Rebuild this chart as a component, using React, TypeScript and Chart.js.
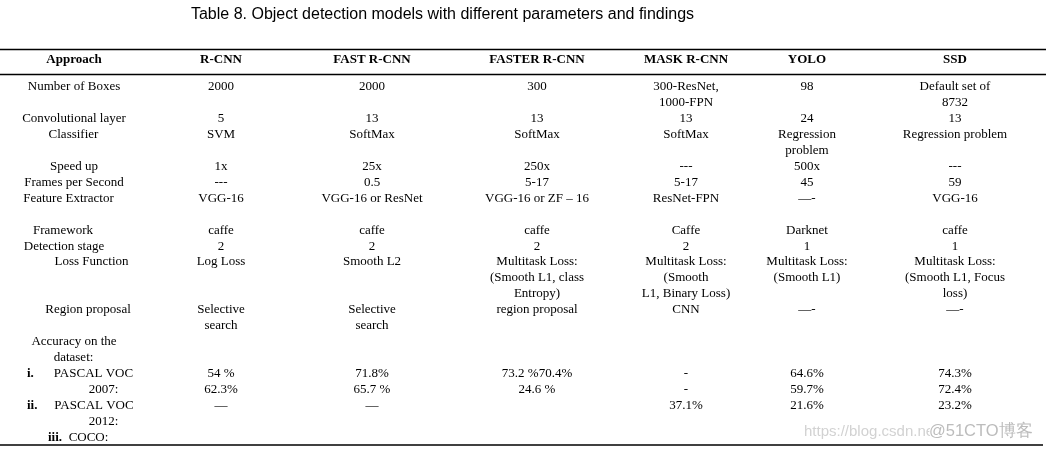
import React, { useEffect, useRef } from "react";
import { Chart, registerables } from "chart.js";

Chart.register(...registerables);

// ---------- data ----------
const title = "Table 8. Object detection models with different parameters and findings";
const headers = ["Approach", "R-CNN", "FAST R-CNN", "FASTER R-CNN", "MASK R-CNN", "YOLO", "SSD"];
const rowLabels = [
  "Number of Boxes",
  "Convolutional layer",
  "Classifier",
  "Speed up",
  "Frames per Second",
  "Feature Extractor",
  "Framework",
  "Detection stage",
  "Loss Function",
  "Region proposal",
  "Accuracy on the\ndataset:",
  "PASCAL VOC\n2007:",
  "PASCAL VOC\n2012:",
  "COCO:",
];
const rowMarkers = ["", "", "", "", "", "", "", "", "", "", "", "i.", "ii.", "iii."];
const rcnn = ["2000", "5", "SVM", "1x", "---", "VGG-16", "caffe", "2", "Log Loss", "Selective\nsearch", "", "54 %\n62.3%", "—", ""];
const fastRcnn = ["2000", "13", "SoftMax", "25x", "0.5", "VGG-16 or ResNet", "caffe", "2", "Smooth L2", "Selective\nsearch", "", "71.8%\n65.7 %", "—", ""];
const fasterRcnn = ["300", "13", "SoftMax", "250x", "5-17", "VGG-16 or ZF – 16", "caffe", "2", "Multitask Loss:\n(Smooth L1, class\nEntropy)", "region proposal", "", "73.2 %70.4%\n24.6 %", "", ""];
const maskRcnn = ["300-ResNet,\n1000-FPN", "13", "SoftMax", "---", "5-17", "ResNet-FPN", "Caffe", "2", "Multitask Loss:\n(Smooth\nL1, Binary Loss)", "CNN", "", "-\n-", "37.1%", ""];
const yolo = ["98", "24", "Regression\nproblem", "500x", "45", "—-", "Darknet", "1", "Multitask Loss:\n(Smooth L1)", "—-", "", "64.6%\n59.7%", "21.6%", ""];
const ssd = ["Default set of\n8732", "13", "Regression problem", "---", "59", "VGG-16", "caffe", "1", "Multitask Loss:\n(Smooth L1, Focus\nloss)", "—-", "", "74.3%\n72.4%", "23.2%", ""];
const watermarkParts = ["https://blog.csdn.ne", "@51CTO博客"];

// ---------- layout (positions / styles) ----------
const LINE0_PX = 86.5;
const LINE_STEP = 15.96;
const toLine = (px: number) => (px - LINE0_PX) / LINE_STEP;
const rowStartLine = [0, 2, 3, 5, 6, 7, 9, 10, 11, 14, 16, 18, 20, 22];
const colCenterX = [74, 221, 372, 537, 686, 807, 955];
const labelLineX = [[74], [74], [73.5], [74], [74], [68.5], [63], [64], [91.5], [88], [74, 73.5], [93.5, 103.5], [94, 103.5], [88.5]];
const markerX = [0, 0, 0, 0, 0, 0, 0, 0, 0, 0, 0, 27, 27, 48];
const ruleLinesPx = [49.5, 74.5, 445];
const ruleEndX = [1046, 1046, 1043];
const SERIF = '"Liberation Serif", "Times New Roman", serif';
const SANS = '"Liberation Sans", Arial, sans-serif';

const textPlugin = {
  id: "cellText",
  afterDatasetsDraw(chart: any) {
    const ctx = chart.ctx;
    chart.data.datasets.forEach((ds: any, i: number) => {
      if (!ds.texts) return;
      const meta = chart.getDatasetMeta(i);
      ctx.save();
      ctx.font = ds.textFont;
      ctx.fillStyle = ds.textColor;
      ctx.textAlign = ds.textAlign;
      ctx.textBaseline = "middle";
      meta.data.forEach((el: any, j: number) => {
        if (ds.textStroke) {
          ctx.strokeStyle = ds.textStroke;
          ctx.lineWidth = 2;
          ctx.strokeText(ds.texts[j], el.x, el.y);
        }
        ctx.fillText(ds.texts[j], el.x, el.y);
      });
      ctx.restore();
    });
  },
};

function textDataset(points: { x: number; y: number }[], texts: string[], font: string, align = "center", color = "#000", stroke?: string) {
  return {
    data: points,
    texts,
    textFont: font,
    textAlign: align,
    textColor: color,
    textStroke: stroke,
    pointRadius: 0,
    pointHoverRadius: 0,
    showLine: false,
  } as any;
}

function buildDatasets() {
  const datasets: any[] = [];
  // rules
  ruleLinesPx.forEach((px, i) => {
    datasets.push({
      data: [
        { x: 0, y: toLine(px) },
        { x: ruleEndX[i], y: toLine(px) },
      ],
      showLine: true,
      borderColor: "#000",
      borderWidth: 1.6,
      pointRadius: 0,
      pointHoverRadius: 0,
    });
  });
  // title
  datasets.push(textDataset([{ x: 442.5, y: toLine(14.5) }], [title], `16px ${SANS}`));
  // headers
  datasets.push(
    textDataset(
      headers.map((_, c) => ({ x: colCenterX[c], y: toLine(59.5) })),
      headers,
      `bold 13px ${SERIF}`
    )
  );
  // first column labels
  const lp: any[] = [];
  const lt: string[] = [];
  rowLabels.forEach((lab, r) => {
    lab.split("\n").forEach((line, k) => {
      const xs = labelLineX[r];
      lp.push({ x: xs[Math.min(k, xs.length - 1)], y: rowStartLine[r] + k });
      lt.push(line);
    });
  });
  datasets.push(textDataset(lp, lt, `13px ${SERIF}`));
  // markers
  const mp: any[] = [];
  const mt: string[] = [];
  rowMarkers.forEach((m, r) => {
    if (!m) return;
    mp.push({ x: markerX[r], y: rowStartLine[r] });
    mt.push(m);
  });
  datasets.push(textDataset(mp, mt, `bold 13px ${SERIF}`, "left"));
  // value columns
  [rcnn, fastRcnn, fasterRcnn, maskRcnn, yolo, ssd].forEach((col, ci) => {
    const pts: any[] = [];
    const txt: string[] = [];
    col.forEach((cell, r) => {
      if (!cell) return;
      cell.split("\n").forEach((line, k) => {
        pts.push({ x: colCenterX[ci + 1], y: rowStartLine[r] + k });
        txt.push(line);
      });
    });
    datasets.push(textDataset(pts, txt, `13px ${SERIF}`));
  });
  // watermark
  datasets.push(textDataset([{ x: 804, y: toLine(431.5) }], [watermarkParts[0]], `15px ${SANS}`, "left", "#d2d2d2"));
  datasets.push(textDataset([{ x: 929, y: toLine(431.5) }], [watermarkParts[1]], `16.5px ${SANS}`, "left", "#bcbcbc", "#ffffff"));
  return datasets;
}

export default function App() {
  const ref = useRef<HTMLCanvasElement | null>(null);
  useEffect(() => {
    document.body.style.margin = "0";
    const canvas = ref.current;
    if (!canvas) return;
    const chart = new Chart(canvas, {
      type: "scatter",
      data: { datasets: buildDatasets() },
      options: {
        responsive: false,
        animation: false,
        layout: { padding: 0 },
        events: [],
        scales: {
          x: { type: "linear", min: 0, max: 1046, display: false },
          y: { type: "linear", min: toLine(0), max: toLine(451), reverse: true, display: false },
        },
        plugins: { legend: { display: false }, tooltip: { enabled: false }, title: { display: false } },
      },
      plugins: [textPlugin],
    } as any);
    return () => chart.destroy();
  }, []);
  return <canvas ref={ref} width={1046} height={451} style={{ display: "block" }} />;
}
